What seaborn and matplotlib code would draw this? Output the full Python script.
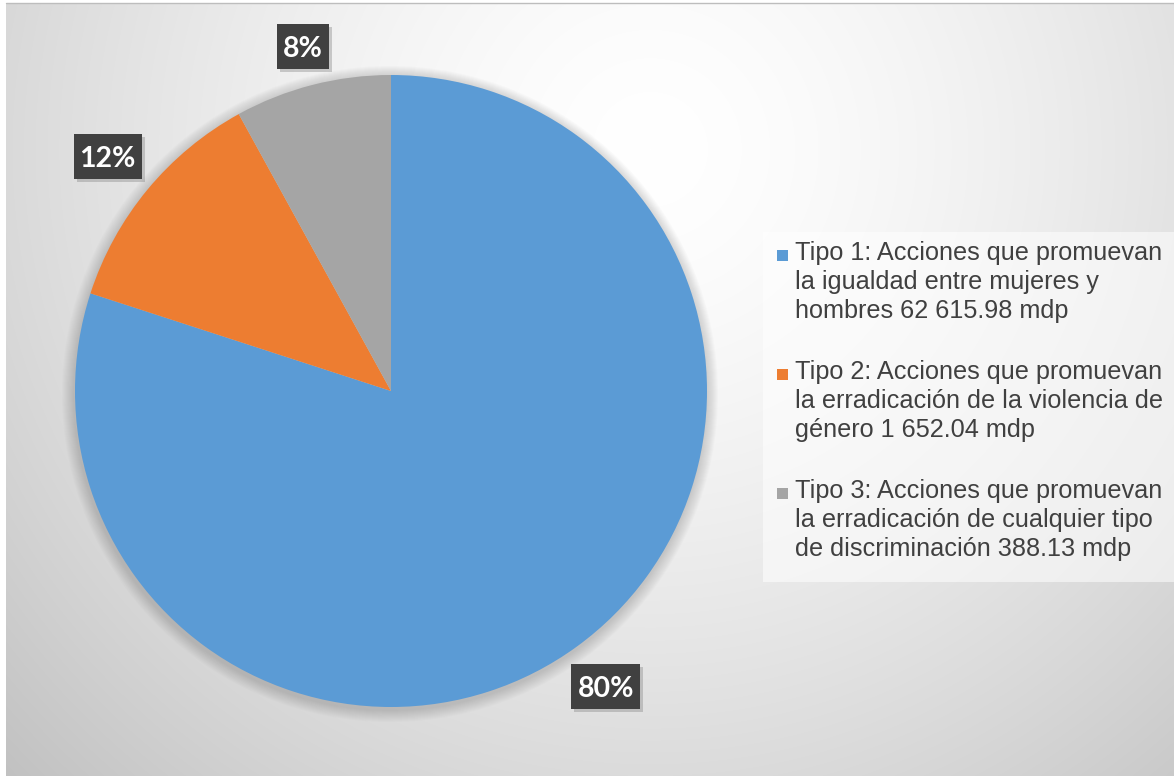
import numpy as np
import matplotlib.pyplot as plt
import seaborn as sns
from matplotlib.patches import Rectangle, Circle

# Data
shares = [80, 12, 8]
legend_labels = [
    "Tipo 1: Acciones que promuevan\nla igualdad entre mujeres y\nhombres 62 615.98 mdp",
    "Tipo 2: Acciones que promuevan\nla erradicación de la violencia de\ngénero 1 652.04 mdp",
    "Tipo 3: Acciones que promuevan\nla erradicación de cualquier tipo\nde discriminación 388.13 mdp",
]
colors = ["#5B9BD5", "#ED7D31", "#A5A5A5"]

sns.set_theme(style="white")
sns.set_palette(colors)
plt.rcParams["font.family"] = ["Liberation Sans", "DejaVu Sans"]

W, H = 1174, 776
fig = plt.figure(figsize=(W / 100, H / 100), dpi=100)
fig.patch.set_facecolor("white")
ax = fig.add_axes([0, 0, 1, 1])

# radial gradient background of the chart area
xs = np.arange(6, W)
ys = np.arange(0, H - 3)
gx, gy = np.meshgrid(xs, ys)
d = np.sqrt((gx - 650) ** 2 + ((H - gy) - 150) ** 2)
val = 255 - 62 * (d / 900) ** 1.5
val = np.clip(val, 180, 255) / 255
img = np.dstack([val, val, val])
ax.imshow(img, extent=[6, W, 0, H - 3], origin="lower", zorder=0, aspect="auto")
ax.plot([6, W], [H - 3, H - 3], color="#bdbdbd", lw=1, zorder=1)

cx, cy, r = 391, H - 391, 316

# soft shadow around the pie
for i in range(12):
    ax.add_patch(Circle((cx - 1, cy - 3), r + 12 - i, color="#606060", alpha=0.025, lw=0, zorder=1))

wedges, texts, autotexts = ax.pie(
    shares, colors=colors, startangle=90, counterclock=False,
    center=(cx, cy), radius=r, autopct=lambda p: f"{p:.0f}%", pctdistance=1.15,
    wedgeprops=dict(linewidth=0), frame=True,
    textprops=dict(color="white", fontsize=20.5, fontweight="bold", family="Lato"),
)
for w in wedges:
    w.set_zorder(2)
ax.set_xlim(0, W)
ax.set_ylim(0, H)
ax.set_aspect("equal")
ax.axis("off")

# data labels placed just outside the pie edge, in dark boxes
fig.canvas.draw()
renderer = fig.canvas.get_renderer()
for w, t in zip(wedges, autotexts):
    ext = t.get_window_extent(renderer)
    hw = ext.width / 2 + 6
    hh = 22.5
    ang = np.deg2rad((w.theta1 + w.theta2) / 2)
    dist = r + 11 + abs(np.cos(ang)) * hw + abs(np.sin(ang)) * hh
    x, y = cx + dist * np.cos(ang), cy + dist * np.sin(ang)
    t.set_position((x, y))
    t.set_va("center_baseline")
    t.set_zorder(6)
    ax.add_patch(Rectangle((x - hw + 3, y - hh - 3), 2 * hw, 2 * hh, facecolor="#7a7a7a",
                           alpha=0.35, lw=0, zorder=4))
    ax.add_patch(Rectangle((x - hw, y - hh), 2 * hw, 2 * hh, facecolor="#404040", lw=0, zorder=5))

# legend
ax.add_patch(Rectangle((763, H - 582), W - 763, 350, facecolor="white", alpha=0.55, lw=0, zorder=3))
for i, (lab, c) in enumerate(zip(legend_labels, colors)):
    top = 241 + i * 119
    ax.add_patch(Rectangle((777, H - (top + 20)), 11, 11, facecolor=c, lw=0, zorder=4))
    ax.text(795, H - top, lab, va="top", ha="left", fontsize=18.2, color="#404040",
            linespacing=1.27, zorder=4)

fig.savefig("out.png", dpi=100)
